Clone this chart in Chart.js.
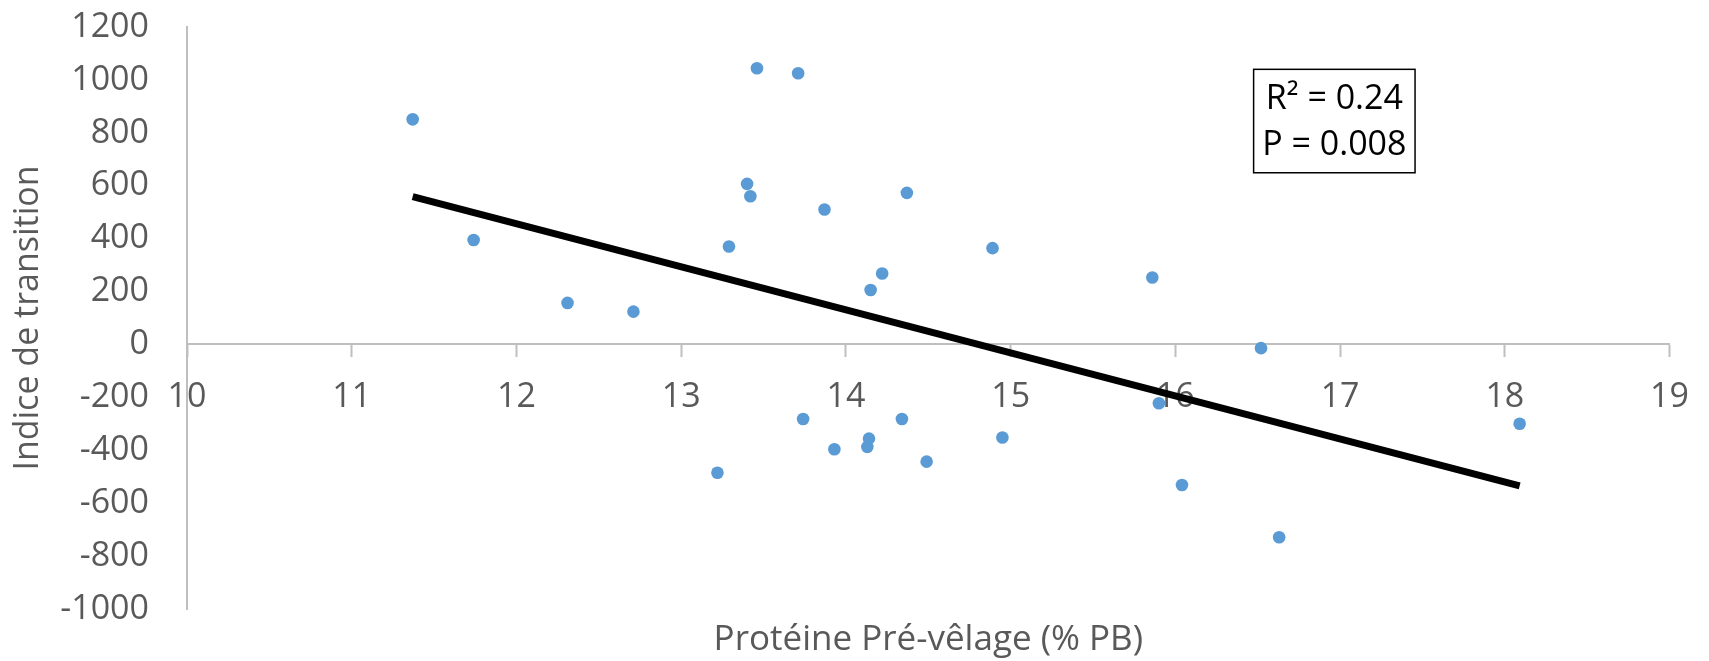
<!DOCTYPE html>
<html>
<head>
<meta charset="utf-8">
<title>Indice de transition</title>
<script src="https://cdn.jsdelivr.net/npm/chart.js@4.4.0/dist/chart.umd.min.js"></script>
<style>
  body { margin: 0; background: #fff; }
</style>
</head>
<body>
<canvas id="myChart" width="1709" height="661"></canvas>
<script>
// values
const proteine = [11.37, 11.74, 12.31, 12.71, 13.22, 13.29, 13.40, 13.42, 13.46, 13.71,
                  13.74, 13.87, 13.93, 14.13, 14.14, 14.15, 14.22, 14.34, 14.37, 14.49,
                  14.89, 14.95, 15.86, 15.90, 16.04, 16.52, 16.63, 18.09];
const indice = [851, 395, 157, 124, -485, 370, 607, 560, 1044, 1025,
                -282, 510, -396, -387, -356, 206, 268, -282, 573, -443,
                364, -352, 253, -222, -531, -14, -729, -300];
const trendX = [11.37, 18.09];
const trendY = [559, -535];
const statLines = ['R² = 0.24', 'P = 0.008'];
const xTitle = 'Protéine Pré-vêlage (% PB)';
const yTitle = 'Indice de transition';

const fontFam = '"Open Sans", Lato, sans-serif';
const grey = '#595959';
const axisGrey = '#bfbfbf';

const points = proteine.map((p, i) => ({x: p, y: indice[i]}));
const trend = trendX.map((t, i) => ({x: t, y: trendY[i]}));

// little framed box with the stats, anchored on data values
const statsBox = {
  id: 'statsBox',
  afterDatasetsDraw(chart) {
    const ctx = chart.ctx;
    const xs = chart.scales.x, ys = chart.scales.y;
    const left = xs.getPixelForValue(16.475);
    const right = xs.getPixelForValue(17.455);
    const top = ys.getPixelForValue(1040);
    const bottom = ys.getPixelForValue(649);
    ctx.save();
    ctx.fillStyle = '#fff';
    ctx.fillRect(left, top, right - left, bottom - top);
    ctx.strokeStyle = '#000';
    ctx.lineWidth = 1.5;
    ctx.strokeRect(left, top, right - left, bottom - top);
    ctx.fillStyle = '#000';
    ctx.font = '34px ' + fontFam;
    ctx.textAlign = 'center';
    ctx.textBaseline = 'middle';
    const mid = (left + right) / 2;
    const cy = (top + bottom) / 2;
    ctx.fillText(statLines[0], mid, cy - 22);
    ctx.fillText(statLines[1], mid, cy + 24);
    ctx.restore();
  }
};

const ctx = document.getElementById('myChart').getContext('2d');
const myChart = new Chart(ctx, {
  type: 'scatter',
  data: {
    datasets: [{
      label: 'Indice',
      data: points,
      backgroundColor: '#5b9bd5',
      borderWidth: 0,
      pointRadius: 6.3,
      order: 0
    }, {
      type: 'line',
      label: 'Tendance',
      data: trend,
      borderColor: '#000',
      borderWidth: 7,
      pointRadius: 0,
      fill: false,
      order: 1
    }]
  },
  options: {
    responsive: false,
    devicePixelRatio: 1,
    animation: false,
    layout: { padding: { top: 27, right: 36, left: 0, bottom: 0 } },
    plugins: {
      legend: { display: false },
      tooltip: { enabled: false },
      title: {
        display: true,
        position: 'bottom',
        fullSize: false,
        text: xTitle,
        color: grey,
        font: { family: fontFam, size: 35, weight: 'normal', lineHeight: 1.2 },
        padding: { top: 10, bottom: 0 }
      }
    },
    scales: {
      x: {
        type: 'linear',
        position: { y: 0 },
        min: 10,
        max: 19,
        ticks: { stepSize: 1, color: grey, padding: 20, font: { family: fontFam, size: 34 } },
        grid: { drawOnChartArea: false, drawTicks: true, tickLength: 12, tickWidth: 2, tickColor: axisGrey },
        border: { display: true, color: axisGrey, width: 2 },
        afterFit: function (scale) { scale.height = 0; }
      },
      y: {
        type: 'linear',
        position: 'left',
        min: -1000,
        max: 1200,
        ticks: {
          stepSize: 200, color: grey, padding: 38, font: { family: fontFam, size: 34 },
          callback: function (value) { return String(value); }
        },
        grid: { drawOnChartArea: false, drawTicks: false },
        border: { display: true, color: axisGrey, width: 2 },
        title: {
          display: true,
          text: yTitle,
          color: grey,
          font: { family: fontFam, size: 34, lineHeight: 1.2 },
          padding: { top: 8, bottom: 0 }
        },
        afterFit: function (scale) {
          scale.width = 187;
          scale.paddingTop = 0;
          scale.paddingBottom = 0;
        }
      }
    }
  },
  plugins: [statsBox]
});
</script>
</body>
</html>
